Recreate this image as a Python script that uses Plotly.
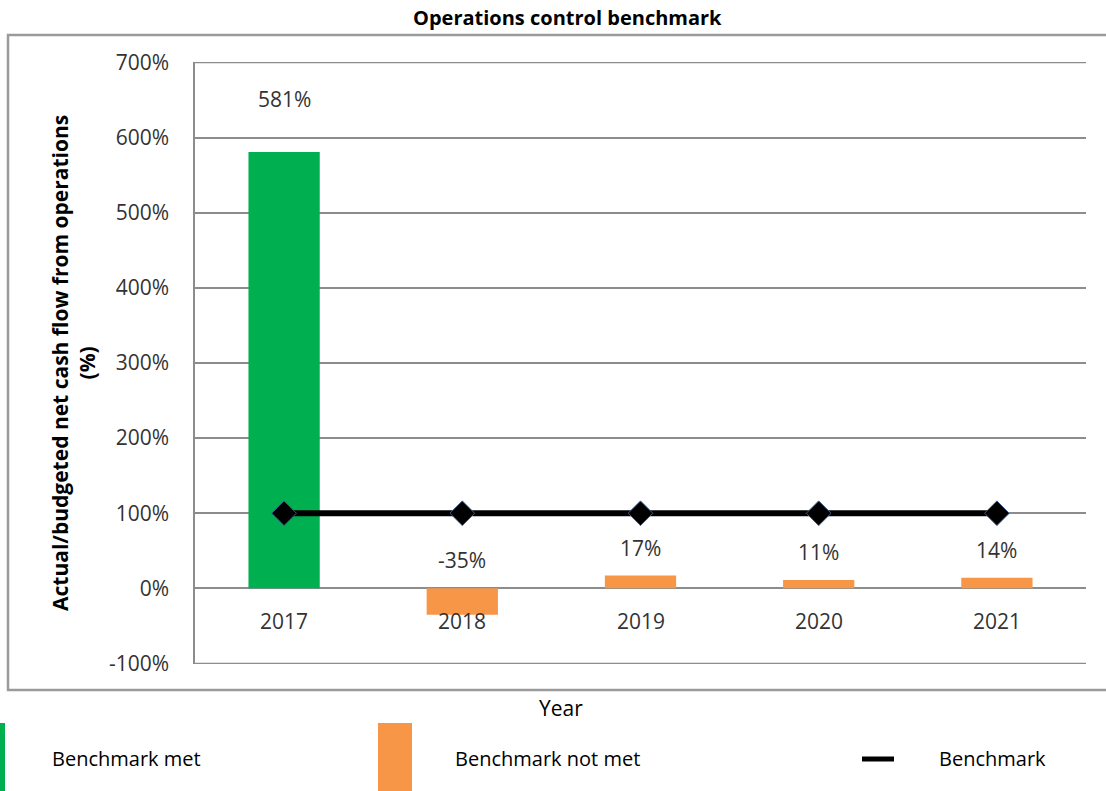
import plotly.graph_objects as go

# Chart data
years = ["2017", "2018", "2019", "2020", "2021"]
ratio_pct = [581, -35, 17, 11, 14]
benchmark_pct = [100, 100, 100, 100, 100]
value_labels = ["581%", "-35%", "17%", "11%", "14%"]
y_ticks = [-100, 0, 100, 200, 300, 400, 500, 600, 700]
y_tick_labels = ["-100%", "0%", "100%", "200%", "300%", "400%", "500%", "600%", "700%"]

GREEN = "#00B050"
ORANGE = "#F79646"
GRID = "#8c8c8c"
TEXT = "#333333"
FONT = "Open Sans"

W, H = 1106, 791
M_L, M_R, M_T, M_B = 195, 20, 62, 127

bar_colors = [GREEN if v >= benchmark_pct[i] else ORANGE for i, v in enumerate(ratio_pct)]

fig = go.Figure()
fig.add_trace(go.Bar(
    x=years, y=ratio_pct, marker=dict(color=bar_colors, line=dict(width=0)),
    width=0.4, showlegend=False, hoverinfo="x+y",
))
fig.add_trace(go.Scatter(
    x=years, y=benchmark_pct, mode="lines+markers",
    line=dict(color="black", width=6),
    marker=dict(symbol="diamond", size=19, color="black",
                line=dict(color="#3a5a8c", width=1)),
    showlegend=False,
))

annotations = []
# Value labels above each bar (or above the zero line for negatives)
for i, (v, lab) in enumerate(zip(ratio_pct, value_labels)):
    shift = 53 if v > 300 else 28
    annotations.append(dict(
        x=i, y=max(v, 0), xref="x", yref="y", text=lab, showarrow=False,
        xanchor="center", yanchor="middle", yshift=shift,
        font=dict(family=FONT, size=21, color=TEXT),
    ))
# Category labels sit just under the 0% line
for i, yr in enumerate(years):
    annotations.append(dict(
        x=i, y=0, xref="x", yref="y", text=yr, showarrow=False,
        xanchor="center", yanchor="middle", yshift=-33,
        font=dict(family=FONT, size=21, color=TEXT),
    ))


def paper_x(p):
    # pixel column -> paper fraction of the plot area
    return (p - M_L) / (W - M_L - M_R)


def paper_y(p):
    # pixel row -> paper fraction of the plot area
    return (H - M_B - p) / (H - M_T - M_B)


def paper_text(px, py, text, size, anchor="center", angle=0, color="black"):
    return dict(x=paper_x(px), y=paper_y(py), xref="paper", yref="paper",
                text=text, showarrow=False, xanchor=anchor, yanchor="middle",
                textangle=angle, font=dict(family=FONT, size=size, color=color))


annotations += [
    paper_text(567, 18, "<b>Operations control benchmark</b>", 20),
    paper_text(73, 363, "<b>Actual/budgeted net cash flow from operations<br>(%)</b>",
               21, angle=-90),
    paper_text(561, 708, "Year", 21),
    paper_text(50, 758, "Benchmark met", 20, anchor="left"),
    paper_text(453, 758, "Benchmark not met", 20, anchor="left"),
    paper_text(937, 758, "Benchmark", 20, anchor="left"),
]

shapes = [
    # outer chart frame
    dict(type="rect", xref="paper", yref="paper",
         x0=paper_x(8), x1=paper_x(1112), y0=paper_y(690), y1=paper_y(35),
         line=dict(color="#9a9a9a", width=2.5), layer="below"),
    # legend swatches
    dict(type="rect", xref="paper", yref="paper",
         x0=paper_x(0), x1=paper_x(5), y0=paper_y(791), y1=paper_y(723),
         fillcolor=GREEN, line=dict(width=0)),
    dict(type="rect", xref="paper", yref="paper",
         x0=paper_x(378), x1=paper_x(412), y0=paper_y(791), y1=paper_y(723),
         fillcolor=ORANGE, line=dict(width=0)),
    dict(type="line", xref="paper", yref="paper",
         x0=paper_x(862), x1=paper_x(894), y0=paper_y(759), y1=paper_y(759),
         line=dict(color="black", width=5)),
]
# gridlines at the top and bottom ends of the value axis
for yv in (y_ticks[0], y_ticks[-1]):
    shapes.append(dict(type="line", xref="paper", yref="y", x0=0, x1=1,
                       y0=yv, y1=yv, line=dict(color=GRID, width=1.5),
                       layer="below"))

fig.update_layout(
    width=W, height=H,
    margin=dict(l=M_L, r=M_R, t=M_T, b=M_B),
    paper_bgcolor="white", plot_bgcolor="white",
    font=dict(family=FONT, color=TEXT),
    annotations=annotations,
    shapes=shapes,
    xaxis=dict(
        type="category", range=[-0.5, 4.5], showticklabels=False,
        showgrid=False, zeroline=False, showline=False, ticks="",
    ),
    yaxis=dict(
        range=[-100.7, 700.7], tickvals=y_ticks, ticktext=y_tick_labels,
        showgrid=True, gridcolor=GRID, gridwidth=1.5,
        zeroline=True, zerolinecolor=GRID, zerolinewidth=1.5,
        showline=True, linecolor=GRID, linewidth=1.5,
        ticks="", ticklabelstandoff=20,
        tickfont=dict(family=FONT, size=21, color=TEXT),
    ),
)

fig.write_html("out.html")
